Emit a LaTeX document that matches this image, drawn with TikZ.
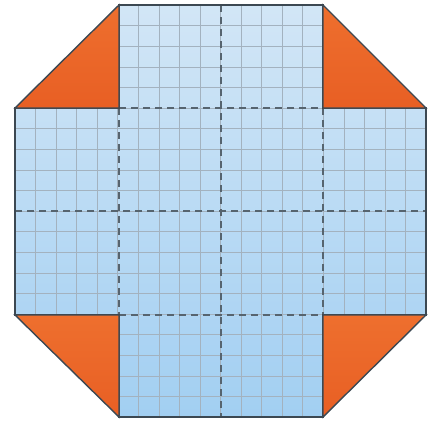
\documentclass[tikz,border=0pt]{standalone}
\begin{document}
\begin{tikzpicture}[x=1pt,y=-1pt,
  outline/.style={draw=edgec,line width=1.4pt,line join=miter},
  gridln/.style={draw=gridc,line width=0.6pt},
  fold/.style={draw=foldc,line width=1.3pt,dash pattern=on 7pt off 5pt},
  flap/.style={outline,top color=orangeA,bottom color=orangeB}]
\definecolor{edgec}{HTML}{3C4852}
\definecolor{gridc}{HTML}{A3B2BF}
\definecolor{foldc}{HTML}{56646F}
\definecolor{blueTop}{HTML}{D2E6F6}
\definecolor{blueBot}{HTML}{A2CFF2}
\definecolor{orangeA}{HTML}{EE6F2E}
\definecolor{orangeB}{HTML}{E85F24}
\useasboundingbox (0,0) rectangle (433,421);
\def\Xa{15}\def\Xb{119}\def\Xc{221}\def\Xd{323}\def\Xe{426}
\def\Ya{5}\def\Yb{108}\def\Yc{211}\def\Yd{315}\def\Ye{417}
% cross shape
\path[top color=blueTop,bottom color=blueBot]
  (\Xb,\Ya) -- (\Xd,\Ya) -- (\Xd,\Yb) -- (\Xe,\Yb) -- (\Xe,\Yd) -- (\Xd,\Yd)
  -- (\Xd,\Ye) -- (\Xb,\Ye) -- (\Xb,\Yd) -- (\Xa,\Yd) -- (\Xa,\Yb) -- (\Xb,\Yb) -- cycle;
\begin{scope}
  \clip (\Xb,\Ya) -- (\Xd,\Ya) -- (\Xd,\Yb) -- (\Xe,\Yb) -- (\Xe,\Yd) -- (\Xd,\Yd)
  -- (\Xd,\Ye) -- (\Xb,\Ye) -- (\Xb,\Yd) -- (\Xa,\Yd) -- (\Xa,\Yb) -- (\Xb,\Yb) -- cycle;
  \foreach \i in {1,...,19} {
    \pgfmathsetmacro{\gx}{\Xa+(\Xe-\Xa)*\i/20}
    \draw[gridln] (\gx,\Ya) -- (\gx,\Ye);
    \pgfmathsetmacro{\gy}{\Ya+(\Ye-\Ya)*\i/20}
    \draw[gridln] (\Xa,\gy) -- (\Xe,\gy);
  }
\end{scope}
% fold lines
\draw[fold] (\Xc,\Ya) -- (\Xc,\Ye);
\draw[fold] (\Xa,\Yc) -- (\Xe,\Yc);
\draw[fold] (\Xb,\Yb) -- (\Xd,\Yb);
\draw[fold] (\Xb,\Yd) -- (\Xd,\Yd);
\draw[fold] (\Xb,\Yb) -- (\Xb,\Yd);
\draw[fold] (\Xd,\Yb) -- (\Xd,\Yd);
% outline
\draw[outline] (\Xb,\Ya) -- (\Xd,\Ya) -- (\Xd,\Yb) -- (\Xe,\Yb) -- (\Xe,\Yd) -- (\Xd,\Yd)
  -- (\Xd,\Ye) -- (\Xb,\Ye) -- (\Xb,\Yd) -- (\Xa,\Yd) -- (\Xa,\Yb) -- (\Xb,\Yb) -- cycle;
% corner flaps
\path[flap] (\Xa,\Yb) -- (\Xb,\Yb) -- (\Xb,\Ya) -- cycle;
\path[flap] (\Xe,\Yb) -- (\Xd,\Yb) -- (\Xd,\Ya) -- cycle;
\path[flap] (\Xa,\Yd) -- (\Xb,\Yd) -- (\Xb,\Ye) -- cycle;
\path[flap] (\Xe,\Yd) -- (\Xd,\Yd) -- (\Xd,\Ye) -- cycle;
\end{tikzpicture}
\end{document}
